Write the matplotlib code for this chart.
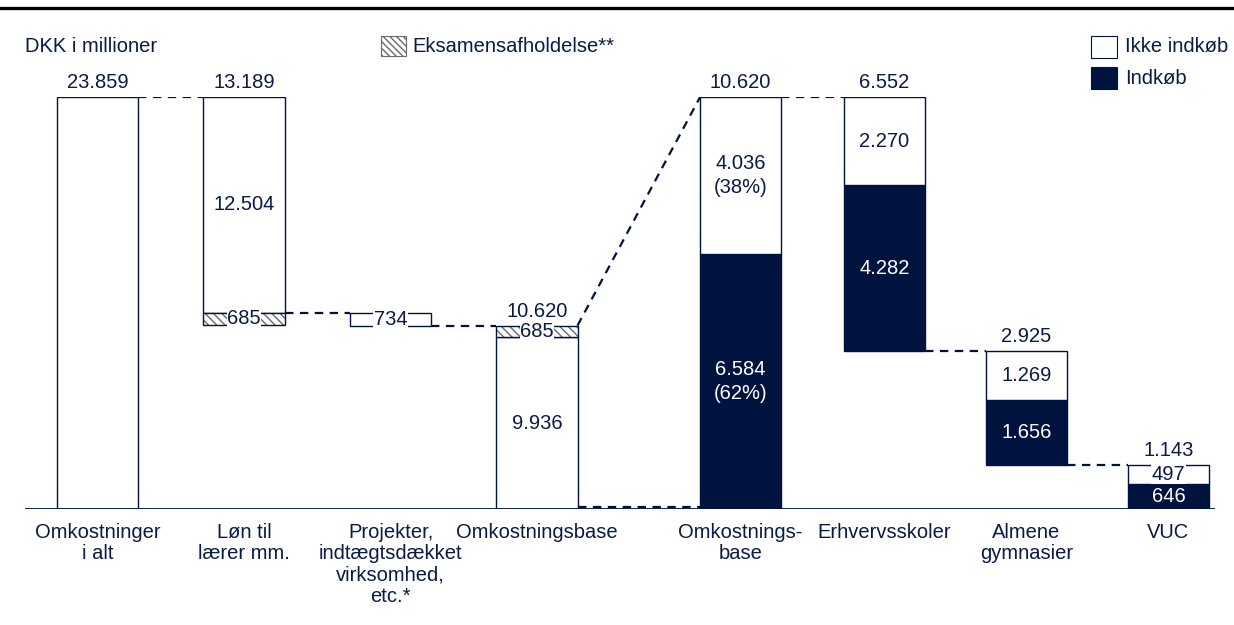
import matplotlib.pyplot as plt
from matplotlib.patches import Rectangle

plt.rcParams['font.family'] = ['Liberation Sans', 'DejaVu Sans']

# Data (DKK i millioner)
categories = ['Omkostninger\ni alt', 'Løn til\nlærer mm.',
              'Projekter,\nindtægtsdækket\nvirksomhed,\netc.*', 'Omkostningsbase',
              'Omkostnings-\nbase', 'Erhvervsskoler', 'Almene\ngymnasier', 'VUC']
total = 23859
loen = 12504
eksamen = 685
projekter = 734
base_total = 10620
base_ikke_eks = 9936
# split of the cost base and the three school types
split_names = ['Omkostningsbase', 'Erhvervsskoler', 'Almene gymnasier', 'VUC']
split_total = [10620, 6552, 2925, 1143]
ikke_indkob = [4036, 2270, 1269, 497]
indkob = [6584, 4282, 1656, 646]
andel = ['38%', '62%']

NAVY = '#00133f'
TEXT = '#0b1a45'
HATCH = '#6a6a6a'
FS = 14.5

W, H = 1234, 625
pos = [0, 1, 2, 3, 4.39, 5.37, 6.34, 7.31]
bw = 0.553
dash = (0, (3.8, 2.9))


def fmt(v):
    return f'{v:,}'.replace(',', '.')


def rect(ax, x, bottom, height, color='white', hatch=False):
    if hatch:
        ax.add_patch(Rectangle((x - bw / 2, bottom), bw, height, facecolor='white',
                               edgecolor=HATCH, hatch='\\\\\\\\', linewidth=0))
        color = 'none'
    ax.add_patch(Rectangle((x - bw / 2, bottom), bw, height, facecolor=color,
                           edgecolor=NAVY, linewidth=1.0))


def connect(ax, x1, x2, y1, y2=None):
    if y2 is None:
        y2 = y1
    ax.plot([x1 + bw / 2, x2 - bw / 2], [y1, y2], color=NAVY, lw=1.6, linestyle=dash)


def label(ax, x, y, txt, color=TEXT, va='center', bg=None):
    kw = {}
    if bg:
        kw['bbox'] = dict(facecolor=bg, edgecolor='none', pad=0.3)
    ax.text(x, y, txt, ha='center', va=va, fontsize=FS, color=color,
            linespacing=1.3, **kw)


fig = plt.figure(figsize=(W / 100, H / 100), dpi=100)
y0, y1 = 509, 97
ax = fig.add_axes([0, (H - y0) / H, 1, (y0 - y1) / H])
x0px, unit = 97.5, 146.5
ax.set_xlim(-x0px / unit, (W - x0px) / unit)
ax.set_ylim(0, 1)
ax.axis('off')
top_off = 0.012

# left part scaled to total, right part scaled to cost base
T = float(total)
R = float(base_total)

# Omkostninger i alt
rect(ax, pos[0], 0, total / T)
label(ax, pos[0], total / T + top_off, fmt(total), va='bottom')

# Løn til lærer
lvl = (total - loen) / T
rect(ax, pos[1], lvl, loen / T)
rect(ax, pos[1], lvl - eksamen / T, eksamen / T, hatch=True)
label(ax, pos[1], 1 + top_off, fmt(loen + eksamen), va='bottom')
label(ax, pos[1], lvl + loen / T / 2, fmt(loen))
label(ax, pos[1], lvl - eksamen / T / 2, fmt(eksamen), bg='white')
connect(ax, pos[0], pos[1], 1)

# Projekter
plvl = (total - loen - projekter) / T
rect(ax, pos[2], plvl, projekter / T)
label(ax, pos[2], plvl + projekter / T / 2, fmt(projekter), bg='white')
connect(ax, pos[1], pos[2], lvl)

# Omkostningsbase (left)
rect(ax, pos[3], 0, base_ikke_eks / T)
rect(ax, pos[3], base_ikke_eks / T, eksamen / T, hatch=True)
btop = (base_ikke_eks + eksamen) / T
label(ax, pos[3], btop + top_off, fmt(base_total), va='bottom')
label(ax, pos[3], base_ikke_eks / T / 2, fmt(base_ikke_eks))
label(ax, pos[3], btop - eksamen / T / 2, fmt(eksamen), bg='white')
connect(ax, pos[2], pos[3], plvl)

# link to right part
connect(ax, pos[3], pos[4], btop, 1)
connect(ax, pos[3], pos[4], 0.005)

# right part: waterfall of cost base
bottoms = [0, split_total[0] - split_total[1],
           split_total[0] - split_total[1] - split_total[2], 0]
for i in range(4):
    x = pos[4 + i]
    b = bottoms[i] / R
    rect(ax, x, b, indkob[i] / R, color=NAVY)
    rect(ax, x, b + indkob[i] / R, ikke_indkob[i] / R)
    top = b + split_total[i] / R
    label(ax, x, top + top_off, fmt(split_total[i]), va='bottom')
    if i == 0:
        label(ax, x, b + (indkob[i] + ikke_indkob[i] / 2) / R,
              f'{fmt(ikke_indkob[i])}\n({andel[0]})')
        label(ax, x, b + indkob[i] / 2 / R, f'{fmt(indkob[i])}\n({andel[1]})', color='white')
    elif i == 3:
        label(ax, x, b + (indkob[i] + ikke_indkob[i] / 2) / R, fmt(ikke_indkob[i]), bg='white')
        label(ax, x, b + indkob[i] / 2 / R, fmt(indkob[i]), color='white')
    else:
        label(ax, x, b + (indkob[i] + ikke_indkob[i] / 2) / R, fmt(ikke_indkob[i]))
        label(ax, x, b + indkob[i] / 2 / R, fmt(indkob[i]), color='white')
    if i > 0:
        connect(ax, pos[3 + i], x, top)

# baseline
ax.plot([(25 - x0px) / unit, (1215 - x0px) / unit], [0, 0], color=NAVY, lw=1.3,
        solid_capstyle='butt')

# category labels
for x, c in zip(pos, categories):
    ax.text(x, -0.034, c, ha='center', va='top', fontsize=FS, color=TEXT, linespacing=1.15)


def px(x, y):
    return x / W, 1 - y / H


# top rule
fig.add_artist(plt.Line2D([0, 1], [1 - 8 / H, 1 - 8 / H], color='black', lw=2.4))

fig.text(*px(25, 46), 'DKK i millioner', fontsize=FS, color=TEXT, va='center')

# legends
lx, ly = px(381, 56)
fig.add_artist(Rectangle((lx, ly), 25 / W, 20 / H, transform=fig.transFigure,
                         facecolor='white', edgecolor=HATCH, hatch='\\\\\\\\\\', lw=0.8))
fig.text(*px(412, 46), 'Eksamensafholdelse**', fontsize=FS, color=TEXT, va='center')

for yy, col, txt in [(58, 'white', 'Ikke indkøb'), (89, NAVY, 'Indkøb')]:
    rx, ry = px(1091, yy)
    fig.add_artist(Rectangle((rx, ry), 26 / W, 22 / H, transform=fig.transFigure,
                             facecolor=col, edgecolor=NAVY, lw=0.8))
    fig.text(*px(1125, yy - 11), txt, fontsize=FS, color=TEXT, va='center')

fig.savefig('out.png', dpi=100)
